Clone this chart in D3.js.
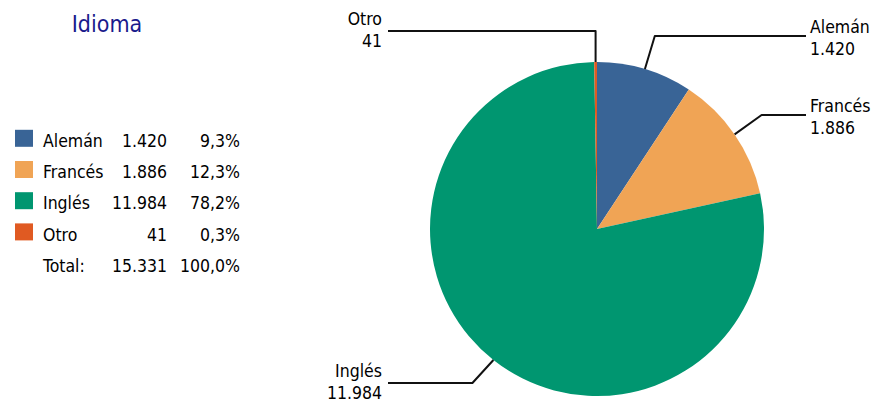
<!DOCTYPE html>
<html>
<head>
<meta charset="utf-8">
<script src="https://cdn.jsdelivr.net/npm/d3@7"></script>
<style>
  body { margin: 0; background: #fff; }
  svg { display: block; font-family: "DejaVu Sans Condensed", "DejaVu Sans", sans-serif; }
</style>
</head>
<body>
<svg width="879" height="404"></svg>
<script>
const categories = ["Alemán", "Francés", "Inglés", "Otro"];
const values = [1420, 1886, 11984, 41];
const valueLabels = ["1.420", "1.886", "11.984", "41"];
const pctLabels = ["9,3%", "12,3%", "78,2%", "0,3%"];
const totalLabel = "15.331";
const totalPct = "100,0%";
const colors = ["#396496", "#f0a455", "#009670", "#e05a22"];

const svg = d3.select("svg");
const cx = 597, cy = 229, radius = 167;
const fs = 17.5;

// title
svg.append("text")
  .attr("x", 107).attr("y", 31.5)
  .attr("text-anchor", "middle")
  .attr("font-size", 23)
  .attr("fill", "#1a1a8c")
  .text("Idioma");

// legend
const rowY = d3.scaleLinear().domain([0, 1]).range([138.3, 169.5]);
const legend = svg.append("g").attr("font-size", fs).attr("fill", "#000");
categories.forEach((c, i) => {
  const y = rowY(i);
  legend.append("rect")
    .attr("x", 15).attr("y", y - 8.5).attr("width", 18).attr("height", 17)
    .attr("fill", colors[i]);
  legend.append("text").attr("x", 43).attr("y", y + 8.7).text(c);
  legend.append("text").attr("x", 167).attr("y", y + 8.7).attr("text-anchor", "end").text(valueLabels[i]);
  legend.append("text").attr("x", 240).attr("y", y + 8.7).attr("text-anchor", "end").text(pctLabels[i]);
});
const ty = rowY(4);
legend.append("text").attr("x", 43).attr("y", ty + 8.7).text("Total:");
legend.append("text").attr("x", 167).attr("y", ty + 8.7).attr("text-anchor", "end").text(totalLabel);
legend.append("text").attr("x", 240).attr("y", ty + 8.7).attr("text-anchor", "end").text(totalPct);

// pie
const pie = d3.pie().sort(null).value(d => d)(values);
const arc = d3.arc().innerRadius(0).outerRadius(radius);
const g = svg.append("g").attr("transform", `translate(${cx},${cy})`);
g.selectAll("path.slice")
  .data(pie)
  .enter()
  .append("path")
  .attr("class", "slice")
  .attr("d", arc)
  .attr("fill", (d, i) => colors[i]);

// leader lines: elbow y and label end x (layout only)
const elbowY = [36, 115, 383, 31];
const side = [1, 1, -1, -1];
const lineEndX = [806, 806, 388, 388];
const lines = svg.append("g");
pie.forEach((d, i) => {
  const a = (d.startAngle + d.endAngle) / 2;
  const px = cx + radius * Math.sin(a);
  const py = cy - radius * Math.cos(a);
  let ex;
  if (i === 0) ex = px + (elbowY[i] - py) / (-Math.cos(a)) * Math.sin(a);
  else if (i === 1) ex = px + 27;
  else if (i === 2) ex = px - 21;
  else ex = px;
  const pts = [[px, py], [ex, elbowY[i]], [lineEndX[i], elbowY[i]]];
  lines.append("path")
    .attr("d", d3.line()(pts))
    .attr("fill", "none")
    .attr("stroke", "#111")
    .attr("stroke-width", 2)
    .attr("stroke-linejoin", "round");
  const right = side[i] > 0;
  const lx = right ? lineEndX[i] + 4 : lineEndX[i] - 6;
  const lbl = svg.append("g").attr("font-size", fs).attr("fill", "#000")
    .attr("text-anchor", right ? "start" : "end");
  lbl.append("text").attr("x", lx).attr("y", elbowY[i] + (right ? -3 : -6)).text(categories[i]);
  lbl.append("text").attr("x", lx).attr("y", elbowY[i] + (right ? 19 : 16)).text(valueLabels[i]);
});
</script>
</body>
</html>
